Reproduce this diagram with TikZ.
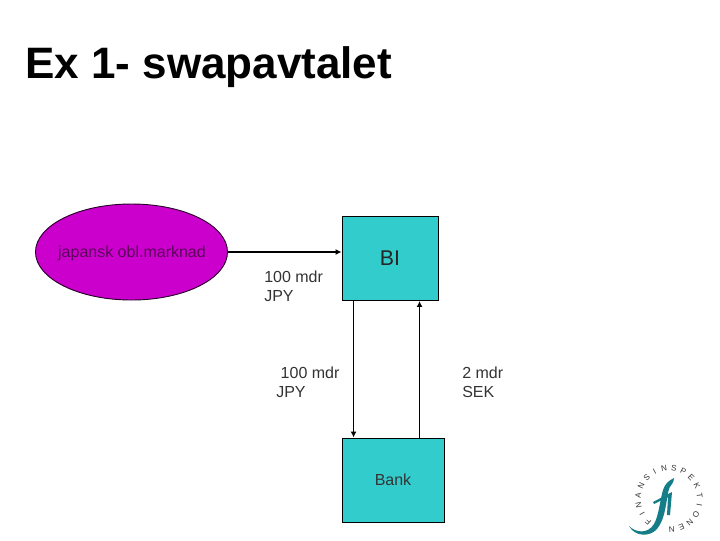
\documentclass[tikz,border=0pt]{standalone}
\usepackage{fontspec}
\usetikzlibrary{shapes.geometric,arrows.meta}
\setmainfont{Liberation Sans}
\definecolor{boxcyan}{RGB}{51,204,204}
\definecolor{ovalpurple}{RGB}{204,0,204}
\definecolor{logoteal}{RGB}{20,125,135}
\tikzset{
    flowbox/.style={draw,line width=0.7pt,fill=boxcyan,minimum width=#1,minimum height=63pt,inner sep=0pt},
    flowarrow/.style={line width=1.4pt,-{Latex[length=4.5pt,width=4.5pt]}},
    amount/.style={anchor=west,align=left,inner sep=0pt,text=black!80,font=\fontsize{12}{14.5}\selectfont},
    logoletter/.style={inner sep=0pt,text=black!80,font=\fontsize{6}{6}\selectfont}
}
\begin{document}
\begin{tikzpicture}[x=0.75pt,y=-0.75pt]
        \useasboundingbox (0,0) rectangle (720,540);
        \node[anchor=west,inner sep=0pt,font=\fontsize{33}{36}\bfseries\selectfont] (title) at (25,67) {Ex 1- swapavtalet};
        \node[draw=black!80!ovalpurple,line width=0.7pt,fill=ovalpurple,ellipse,minimum width=144pt,minimum height=72pt,inner sep=0pt] (market) at (131.5,252) {};
        \node[inner sep=0pt,text=black!55!ovalpurple,font=\fontsize{12}{14}\selectfont] (marketname) at (132,253) {japansk obl.marknad};
        \node[flowbox=72pt,text=black!85,font=\fontsize{16}{18}\selectfont] (bi) at (390,258.5) {BI};
        \node[flowbox=76.5pt,text=black!80,font=\fontsize{12}{14}\selectfont] (bank) at (393,480) {Bank};
        \draw[flowarrow] (market.east) -- (market.east -| bi.west);
        \draw[flowarrow] ([xshift=9pt]bi.south west) -- ([xshift=9pt]bi.south west |- bank.north);
        \draw[flowarrow] ([xshift=58.5pt]bank.north west) -- ([xshift=58.5pt]bank.north west |- bi.south);
        \node[amount] (loan) at (264,286) {100 mdr\\JPY};
        \node[amount] (swapjpy) at (276,382) {\ 100 mdr\\JPY};
        \node[amount] (swapsek) at (462,382) {2 mdr\\SEK};
        % logo
        \fill[logoteal] (629,526) .. controls (636,533) and (648,534) .. (654,524)
            .. controls (659,515) and (660,500) .. (663,490)
            .. controls (665,483) and (670,480) .. (674,478)
            .. controls (674,481) and (673,482) .. (672,484)
            .. controls (668,488) and (668,494) .. (667,499)
            .. controls (665,510) and (664,520) .. (657,529)
            .. controls (650,537) and (635,537) .. (629,526) -- cycle;
        \fill[logoteal] (653,502) -- (672,492) -- (670,515) -- (667,515) -- (668,497) -- (654,504) -- cycle;
        \foreach \i/\c in {0/F,1/I,2/N,3/A,4/N,5/S,6/I,7/N,8/S,9/P,10/E,11/K,12/T,13/I,14/O,15/N,16/E,17/N}
            \node[logoletter,rotate=228-\i*18.4-90] (letter\i) at ({669+31*cos(228-\i*18.4)},{499-31*sin(228-\i*18.4)}) {\c};
    \end{tikzpicture}
\end{document}
